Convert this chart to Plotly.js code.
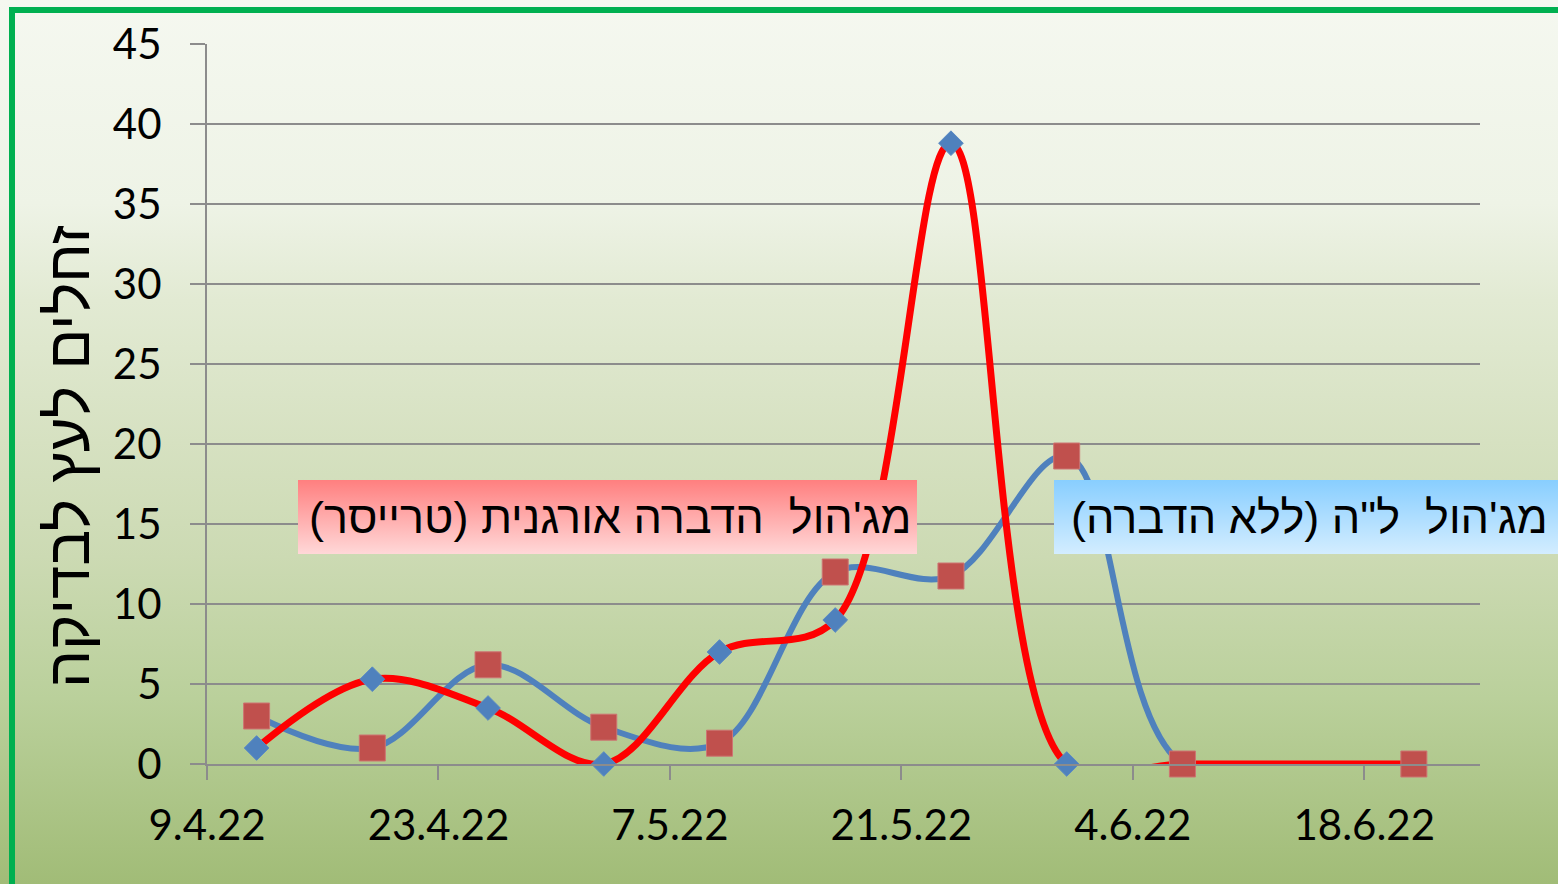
<!DOCTYPE html>
<html>
<head>
<meta charset="utf-8">
<script src="https://cdn.plot.ly/plotly-3.0.1.min.js"></script>
<style>
  html, body { margin: 0; padding: 0; width: 1558px; height: 884px; overflow: hidden; }
  #chart { width: 1558px; height: 884px;
    background: linear-gradient(to bottom, #F5F8F0 0%, #EEF3E6 23%, #E2EAD3 34%, #D6E1C1 50%, #CCDAB3 63%, #BAD09B 79%, #A1BC77 100%); }
</style>
</head>
<body>
<div id="chart"></div>
<script>
// ---- data ----
const dates = ['2022-04-12','2022-04-19','2022-04-26','2022-05-03','2022-05-10','2022-05-17','2022-05-24','2022-05-31','2022-06-07','2022-06-21'];
const organicValues   = [1, 5.3, 3.5, 0, 7, 9, 38.8, 0, 0, 0];        // red line, blue diamonds
const untreatedValues = [3, 1, 6.2, 2.3, 1.3, 12, 11.75, 19.25, 0, 0]; // blue line, red squares
const organicLabel   = "מג'הול\u00a0 הדברה אורגנית (טרייסר)";
const untreatedLabel = 'מג\'הול\u00a0 ל"ה (ללא הדברה)';
const yTitle = 'זחלים לעץ לבדיקה';

const hebFont = 'Liberation Sans, Arial, sans-serif';
const numFont = 'Lato, Carlito, sans-serif';
const gridCol = '#8C8C8C';

function grad(c1, c2) {
  const svg = '<svg xmlns="http://www.w3.org/2000/svg" width="100" height="100" viewBox="0 0 100 100" preserveAspectRatio="none">' +
    '<defs><linearGradient id="g" x1="0" y1="0" x2="0" y2="1"><stop offset="0" stop-color="' + c1 + '"/><stop offset="1" stop-color="' + c2 + '"/></linearGradient></defs>' +
    '<rect width="100" height="100" fill="url(#g)"/></svg>';
  return 'data:image/svg+xml;charset=utf-8,' + encodeURIComponent(svg);
}

const traces = [
  { x: dates, y: untreatedValues, type: 'scatter', mode: 'lines', name: untreatedLabel,
    line: { color: '#4F81BD', width: 6, shape: 'spline', smoothing: 1 }, hoverinfo: 'x+y' },
  { x: dates, y: organicValues, type: 'scatter', mode: 'lines', name: organicLabel,
    line: { color: '#FF0000', width: 7, shape: 'spline', smoothing: 1 }, hoverinfo: 'x+y' },
  { x: dates, y: organicValues, type: 'scatter', mode: 'markers', name: organicLabel, cliponaxis: false,
    marker: { symbol: 'diamond', size: 19, color: '#4F81BD', line: { color: '#5A8AC4', width: 1 } } },
  { x: dates, y: untreatedValues, type: 'scatter', mode: 'markers', name: untreatedLabel, cliponaxis: false,
    marker: { symbol: 'square', size: 26, color: '#C0504D', line: { color: '#CD7472', width: 1 } } }
];

const L = 207, R = 1480, T = 44, B = 764;
const W = R - L, H = B - T;
const px = v => (v - L) / W;
const py = v => (B - v) / H;

const layout = {
  width: 1558, height: 884,
  margin: { l: L, r: 1558 - R, t: T, b: 884 - B, pad: 0 },
  paper_bgcolor: 'rgba(0,0,0,0)',
  plot_bgcolor: 'rgba(0,0,0,0)',
  showlegend: false,
  xaxis: {
    type: 'date',
    range: ['2022-04-09', '2022-06-25'],
    tick0: '2022-04-09', dtick: 14 * 86400000,
    tickformat: '%-d.%-m.%y',
    ticks: 'outside', ticklen: 14, tickwidth: 2, tickcolor: gridCol,
    showgrid: false, zeroline: false,
    showline: true, linecolor: gridCol, linewidth: 2,
    tickfont: { family: numFont, size: 42, color: '#000' },
    ticklabelstandoff: 10
  },
  yaxis: {
    range: [0, 45], dtick: 5, tick0: 0,
    ticks: 'outside', ticklen: 15, tickwidth: 2, tickcolor: gridCol,
    showgrid: true, gridcolor: gridCol, gridwidth: 2,
    zeroline: false,
    showline: true, linecolor: gridCol, linewidth: 2,
    tickfont: { family: numFont, size: 42, color: '#000' },
    ticklabelstandoff: 20
  },
  images: [
    { source: grad('#FF7F7F', '#FFD8D8'), xref: 'paper', yref: 'paper',
      x: px(298), y: py(480), sizex: px(917) - px(298), sizey: py(480) - py(554),
      xanchor: 'left', yanchor: 'top', sizing: 'stretch', layer: 'above' },
    { source: grad('#88CEFF', '#D3EDFF'), xref: 'paper', yref: 'paper',
      x: px(1054), y: py(480), sizex: px(1620) - px(1054), sizey: py(480) - py(554),
      xanchor: 'left', yanchor: 'top', sizing: 'stretch', layer: 'above' }
  ],
  annotations: [
    { text: organicLabel, xref: 'paper', yref: 'paper', x: px(913), y: py(517),
      xanchor: 'right', yanchor: 'middle', showarrow: false,
      font: { family: hebFont, size: 45, color: '#000' } },
    { text: untreatedLabel, xref: 'paper', yref: 'paper', x: px(1550), y: py(517),
      xanchor: 'right', yanchor: 'middle', showarrow: false,
      font: { family: hebFont, size: 45, color: '#000' } },
    { text: yTitle, xref: 'paper', yref: 'paper', x: px(68), y: py(457),
      xanchor: 'center', yanchor: 'middle', textangle: -90, showarrow: false,
      font: { family: hebFont, size: 60, color: '#000' } }
  ],
  shapes: [
    { type: 'rect', xref: 'paper', yref: 'paper', layer: 'above',
      x0: px(12), x1: px(1700), y0: py(10), y1: py(1000),
      line: { color: '#00B050', width: 6 }, fillcolor: 'rgba(0,0,0,0)' }
  ]
};

Plotly.newPlot('chart', traces, layout, { displayModeBar: false, staticPlot: true });
</script>
</body>
</html>
